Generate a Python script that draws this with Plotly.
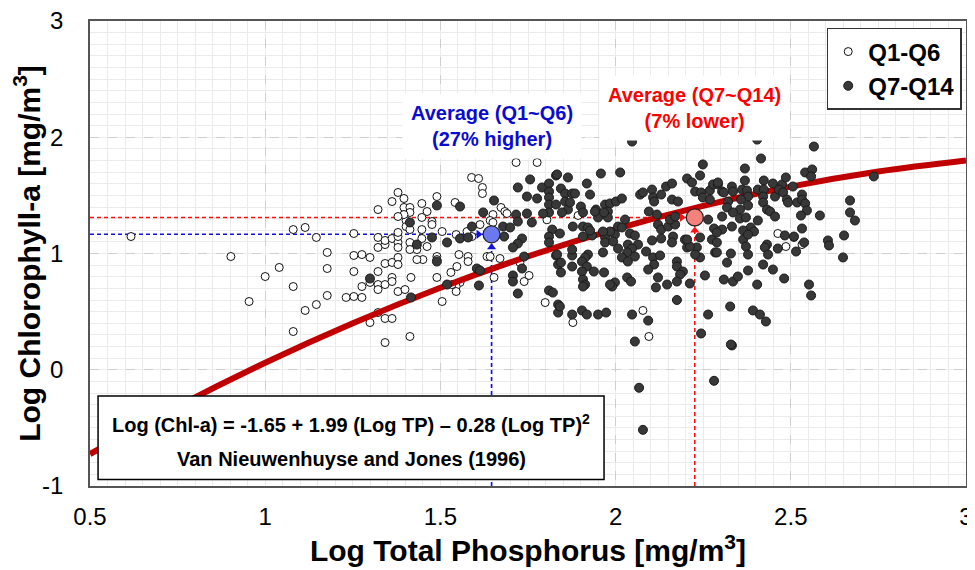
import plotly.graph_objects as go

FONT = "Arial, Liberation Sans, sans-serif"

# ---------------- data ----------------
q1_q6_logtp = [0.617,0.902,0.954,1.000,1.040,1.080,1.114,1.146,1.177,1.177,1.080,1.114,1.146,1.177,1.080,
               1.253,1.322,1.362,1.253,1.276,1.299,1.322,1.322,1.342,1.342,1.362,1.342,1.362,1.322,1.253,
               1.299,1.276,1.322,1.322,1.342,1.362,1.231,1.253,1.276,1.322,1.299,1.342,1.362,1.342,1.379,
               1.396,1.379,1.379,1.379,1.402,1.402,1.396,1.447,1.462,1.476,1.476,1.490,1.505,1.447,1.447,
               1.716,1.776,1.589,1.609,1.620,1.620,1.542,1.413,1.413,1.396,1.379,1.447,1.673,1.684,1.690,
               1.650,1.642,1.650,1.613,1.590,1.576,1.545,1.413,1.379,1.413,1.433,1.462,1.450,1.433,1.413,
               1.379,1.379,1.490,1.490,1.553,1.579,1.579,1.547,1.530,1.633,1.642,1.670,1.490,1.416,1.362,
               1.556,1.545,1.545,1.533,1.379,1.399,1.505,1.653,1.739,1.753,1.799,1.413,1.893,1.878,2.078,
               2.095,2.463,2.486,2.509,2.532,1.727,1.804]
q1_q6_logchl = [1.146,0.974,0.587,0.802,0.880,1.206,1.224,1.138,1.009,0.871,0.716,0.510,0.561,0.639,0.329,
                1.172,1.378,1.447,0.983,0.991,0.966,1.138,1.052,1.077,1.112,1.129,0.914,0.923,0.845,0.845,
                0.751,0.716,0.733,0.690,0.733,0.794,0.622,0.630,0.622,0.492,0.406,0.441,0.441,0.234,1.525,
                1.473,1.095,1.052,1.146,1.284,1.232,1.396,1.430,1.361,1.275,1.249,1.490,1.189,1.206,1.129,
                1.783,1.783,1.654,1.645,1.568,1.516,1.439,1.396,1.353,1.335,1.318,1.310,1.396,1.361,1.344,
                1.335,1.284,1.267,1.249,1.146,1.189,1.163,1.206,1.181,1.095,1.034,1.060,0.948,0.948,1.034,
                0.966,0.905,0.974,0.948,0.991,0.974,0.931,0.888,0.837,0.974,0.974,0.957,0.794,0.794,0.759,
                0.751,0.716,0.673,0.733,0.673,0.690,0.587,0.794,0.759,0.811,0.578,0.286,1.327,0.406,0.510,
                0.286,1.172,1.060,1.138,1.077,0.922,1.290]

q7_q14_logtp = [1.490,1.556,1.653,1.413,1.433,1.476,1.519,1.556,1.579,1.590,1.622,1.679,1.699,1.682,1.716,
                1.747,1.761,1.721,1.721,1.747,1.756,1.776,1.790,1.810,1.810,1.830,1.810,1.810,1.830,1.810,
                1.793,1.733,1.721,1.707,1.739,1.733,1.707,1.707,1.721,1.610,1.604,1.613,1.416,1.810,1.821,
                1.819,1.810,1.810,1.830,1.836,1.836,1.836,1.519,1.299,1.490,
                2.047,1.958,2.013,1.833,1.864,1.918,1.844,1.856,1.876,1.884,1.927,1.856,1.864,1.901,1.944,
                1.970,1.984,2.001,2.018,1.978,1.978,1.950,2.027,2.007,1.998,2.018,1.907,1.921,1.933,1.907,
                1.878,1.841,1.970,1.970,1.993,1.984,1.964,2.041,2.055,2.035,2.064,2.047,2.007,2.033,2.018,
                2.055,2.035,1.964,1.921,1.913,1.876,1.833,1.844,1.876,1.844,1.904,1.918,1.904,1.938,1.907,
                1.913,1.967,1.998,1.990,2.033,2.044,2.070,2.078,2.104,2.107,2.110,2.130,2.144,2.161,2.161,
                2.178,2.095,2.118,2.121,2.130,2.150,2.170,2.155,2.170,2.104,2.130,2.164,2.161,2.198,2.204,
                2.087,2.107,2.127,2.110,2.093,2.175,2.175,2.192,2.184,2.121,2.115,2.147,2.175,2.212,2.204,
                2.218,2.227,2.244,2.249,2.241,2.249,2.269,2.278,2.292,2.304,2.269,2.264,2.304,2.281,2.304,
                2.275,2.289,2.284,2.241,2.255,2.241,2.232,2.227,2.212,2.204,2.175,1.841,1.876,1.904,1.918,
                1.950,1.973,2.047,2.093,2.055,2.264,2.244,2.067,2.078,2.281,2.327,2.332,2.392,2.412,2.429,
                2.404,2.566,2.415,2.369,2.369,2.423,2.449,2.475,2.486,2.506,2.541,2.561,2.558,2.737,2.292,
                2.309,2.332,2.335,2.361,2.375,2.378,2.358,2.321,2.318,2.406,2.423,2.421,2.455,2.466,2.478,
                2.489,2.492,2.518,2.532,2.532,2.541,2.546,2.529,2.421,2.432,2.441,2.455,2.378,2.355,2.335,
                2.355,2.372,2.406,2.583,2.669,2.669,2.683,2.652,2.649,2.606,2.609,2.332,2.386,2.395,2.364,
                2.289,2.364,2.378,2.289,2.329,2.372,2.378,2.432,2.426,2.435,2.483,2.509,2.532,2.538,2.515,
                2.463,2.318,2.309,2.335,2.349,2.378,2.421,2.449,2.481,2.404,2.552,2.558,2.329,
                1.876,1.907,1.984,1.847,1.870,1.907,1.941,1.967,1.927]
q7_q14_logchl = [1.413,1.404,1.456,1.267,1.077,1.138,1.095,1.129,1.138,1.232,1.353,1.232,1.224,1.146,1.335,
                 1.344,1.267,1.275,1.568,1.490,1.637,1.473,1.568,1.602,1.533,1.671,1.482,1.421,1.421,1.353,
                 1.344,1.129,1.086,1.052,0.974,0.871,0.811,0.759,0.656,0.725,0.871,0.854,0.622,0.682,0.664,
                 1.206,1.146,1.095,0.983,0.905,0.561,0.492,0.733,0.785,0.931,
                 1.963,1.688,1.697,1.680,1.654,1.602,1.559,1.516,1.516,1.516,1.507,1.447,1.378,1.404,1.378,
                 1.421,1.430,1.447,1.473,1.361,1.310,1.310,1.292,1.232,1.163,1.224,1.232,1.224,1.155,1.146,
                 1.232,1.172,1.138,1.095,1.103,1.189,1.189,1.172,1.155,1.077,1.077,1.043,1.043,1.009,0.966,
                 0.974,0.931,1.009,0.991,0.966,0.983,0.991,0.922,0.888,0.837,0.931,0.888,0.845,0.845,0.776,
                 0.733,0.837,0.751,0.716,0.794,0.759,1.507,1.525,1.550,1.482,1.447,1.507,1.576,1.602,1.464,
                 1.447,1.361,1.335,1.249,1.206,1.232,1.249,1.292,1.318,1.112,1.129,1.146,1.095,1.120,1.052,
                 1.017,0.966,0.983,0.905,0.862,0.931,0.888,0.845,0.819,0.794,0.708,0.733,0.759,0.742,1.645,
                 1.611,1.533,1.525,1.482,1.671,1.766,1.542,1.594,1.594,1.533,1.464,1.292,1.318,1.215,1.206,
                 1.120,1.095,1.009,0.966,0.811,1.138,1.052,0.991,1.060,1.120,0.600,0.544,0.475,0.510,0.475,
                 0.475,0.492,0.475,0.423,0.243,0.475,0.312,-0.155,-0.517,-0.095,0.544,0.209,0.510,0.475,0.415,
                 1.980,1.920,1.817,1.731,1.628,1.628,1.602,1.594,1.654,1.576,1.697,1.723,1.663,1.663,1.611,
                 1.525,1.576,1.533,1.550,1.542,1.490,1.464,1.447,1.396,1.550,1.550,1.490,1.490,1.550,1.525,
                 1.464,1.439,1.439,1.507,1.464,1.430,1.370,1.327,1.439,1.378,1.361,1.318,1.413,1.378,1.353,
                 1.301,1.310,1.284,1.327,1.456,1.353,1.284,1.155,0.966,1.112,1.069,1.232,1.224,1.189,1.198,
                 1.181,1.120,1.163,1.009,1.000,1.060,0.991,1.077,1.052,0.991,1.155,1.146,1.215,1.095,1.017,
                 1.043,0.922,0.776,0.759,0.802,0.854,0.905,0.862,0.785,0.733,0.733,0.639,0.217,
                 1.034,0.716,0.733,1.353,1.439,1.353,1.361,1.353,1.198]

# averages of the two groups
avg_q1_q6 = (1.646, 1.165)
avg_q7_q14 = (2.226, 1.31)

# Van Nieuwenhuyse and Jones (1996) curve
curve_logtp = [0.5, 0.75, 1.0, 1.25, 1.5, 1.75, 2.0, 2.25, 2.5, 2.75, 3.0]
curve_logchl = [-0.725, -0.315, 0.06, 0.40, 0.705, 0.975, 1.21, 1.41, 1.575, 1.705, 1.80]

x_ticks = [0.5, 1, 1.5, 2, 2.5, 3]
x_tick_text = ["0.5", "1", "1.5", "2", "2.5", "3"]
y_ticks = [-1, 0, 1, 2, 3]
y_tick_text = ["-1", "0", "1", "2", "3"]
X_RANGE = [0.5, 3]
Y_RANGE = [-1, 3]

BLUE = "#1010e0"
RED = "#ff1010"

# figure geometry (the page adds an 8 px body margin)
W, H = 967, 562
ML, MR, MT, MB = 82, 9, 13, 84
px_per_x = (W - ML - MR) / (X_RANGE[1] - X_RANGE[0])
px_per_y = (H - MT - MB) / (Y_RANGE[1] - Y_RANGE[0])

fig = go.Figure()

# dashed guide lines to the averages (with arrow heads)
for (ax_, ay_), col in [(avg_q1_q6, BLUE), (avg_q7_q14, RED)]:
    fig.add_trace(go.Scatter(x=[X_RANGE[0], ax_], y=[ay_, ay_], mode="lines",
                             line=dict(color=col, width=1.6, dash="4px,3px"),
                             showlegend=False, hoverinfo="skip"))
    fig.add_trace(go.Scatter(x=[ax_, ax_], y=[Y_RANGE[0], ay_], mode="lines",
                             line=dict(color=col, width=1.6, dash="4px,3px"),
                             showlegend=False, hoverinfo="skip"))

fig.add_trace(go.Scatter(x=q1_q6_logtp, y=q1_q6_logchl, mode="markers", name="Q1-Q6",
                         marker=dict(symbol="circle", size=8, color="white",
                                     line=dict(color="#111111", width=1))))

fig.add_trace(go.Scatter(x=curve_logtp, y=curve_logchl, mode="lines", line_shape="spline",
                         line=dict(color="#c00000", width=6), showlegend=False, hoverinfo="skip"))

fig.add_trace(go.Scatter(x=q7_q14_logtp, y=q7_q14_logchl, mode="markers", name="Q7-Q14",
                         marker=dict(symbol="circle", size=9, color="#383838",
                                     line=dict(color="#1a1a1a", width=1))))

for (ax_, ay_), col in [(avg_q1_q6, BLUE), (avg_q7_q14, RED)]:
    fig.add_trace(go.Scatter(x=[ax_ - 13 / px_per_x], y=[ay_], mode="markers", showlegend=False,
                             hoverinfo="skip",
                             marker=dict(symbol="triangle-right", size=8, color=col, line_width=0)))
    fig.add_trace(go.Scatter(x=[ax_], y=[ay_ - 13 / px_per_y], mode="markers", showlegend=False,
                             hoverinfo="skip",
                             marker=dict(symbol="triangle-up", size=8, color=col, line_width=0)))

fig.add_trace(go.Scatter(x=[avg_q1_q6[0]], y=[avg_q1_q6[1]], mode="markers", showlegend=False,
                         marker=dict(size=17, color="#6b78ee", line=dict(color="#222222", width=1.2))))
fig.add_trace(go.Scatter(x=[avg_q7_q14[0]], y=[avg_q7_q14[1]], mode="markers", showlegend=False,
                         marker=dict(size=17, color="#f5807c", line=dict(color="#222222", width=1.2))))

annotations = []
annotations.append(dict(x=avg_q1_q6[0], y=2.095, xref="x", yref="y", showarrow=False,
                        text="<b>Average (Q1~Q6)<br>(27% higher)</b>",
                        font=dict(family=FONT, size=20, color="#0a0ad0"),
                        bgcolor="white", borderpad=8))
annotations.append(dict(x=avg_q7_q14[0], y=2.255, xref="x", yref="y", showarrow=False,
                        text="<b>Average (Q7~Q14)<br>(7% lower)</b>",
                        font=dict(family=FONT, size=20, color="#ff0000"),
                        bgcolor="white", borderpad=8))

# equation box
annotations.append(dict(x=1.245, y=-0.46, xref="x", yref="y", showarrow=False,
                        text="<b>Log (Chl-a) = -1.65 + 1.99 (Log TP) – 0.28 (Log TP)<sup>2</sup></b>",
                        font=dict(family=FONT, size=20, color="black")))
annotations.append(dict(x=1.245, y=-0.77, xref="x", yref="y", showarrow=False,
                        text="<b>Van Nieuwenhuyse and Jones (1996)</b>",
                        font=dict(family=FONT, size=20, color="black")))

shapes = [dict(type="rect", xref="x", yref="y", x0=0.523, x1=1.967, y0=-0.945, y1=-0.225,
               fillcolor="white", line=dict(color="black", width=1.5), layer="above")]

fig.update_layout(
    width=W, height=H,
    margin=dict(l=ML, r=MR, t=MT, b=MB),
    paper_bgcolor="white", plot_bgcolor="white",
    font=dict(family=FONT, color="black"),
    annotations=annotations, shapes=shapes,
    legend=dict(x=0.841, y=0.985, xanchor="left", yanchor="top",
                bgcolor="white", bordercolor="#333333", borderwidth=1.5,
                font=dict(family=FONT, size=24, color="black", weight="bold"),
                tracegroupgap=0, itemwidth=30),
    xaxis=dict(range=X_RANGE, tickvals=x_ticks, ticktext=x_tick_text, automargin=False,
               ticklabeloverflow="allow",
               showgrid=True, gridcolor="#cfcfcf", griddash="dash", gridwidth=1,
               minor=dict(dtick=0.05, showgrid=True, gridcolor="#ebebeb", gridwidth=1,
                          griddash="solid"),
               showline=True, linecolor="#555555", linewidth=1.5, mirror=True,
               zeroline=False, ticks="", ticklabelstandoff=8,
               tickfont=dict(family=FONT, size=24, color="black"),
               title=dict(text="<b>Log Total Phosphorus [mg/m<sup>3</sup>]</b>",
                          font=dict(family=FONT, size=30, color="black"), standoff=4)),
    yaxis=dict(range=Y_RANGE, tickvals=y_ticks, ticktext=y_tick_text, automargin=False,
               ticklabeloverflow="allow",
               showgrid=True, gridcolor="#cfcfcf", griddash="dash", gridwidth=1,
               minor=dict(dtick=0.1, showgrid=True, gridcolor="#ebebeb", gridwidth=1,
                          griddash="solid"),
               showline=True, linecolor="#555555", linewidth=1.5, mirror=True,
               zeroline=False, ticks="", ticklabelstandoff=20,
               tickfont=dict(family=FONT, size=24, color="black"),
               title=dict(text="<b>Log Chlorophyll-a [mg/m<sup>3</sup>]</b>",
                          font=dict(family=FONT, size=30, color="black"), standoff=4)),
)

fig.write_html("out.html")
